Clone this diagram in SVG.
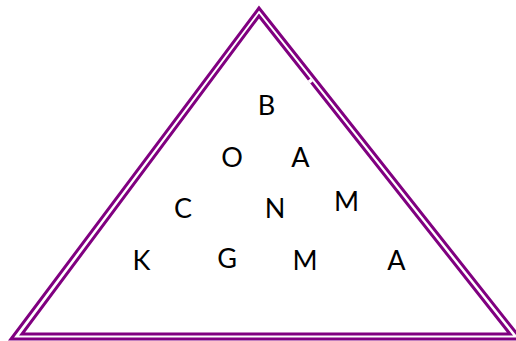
<svg xmlns="http://www.w3.org/2000/svg" width="516" height="341" viewBox="0 0 516 341">
<style>
.tri{fill:none;stroke:#800080;stroke-width:3}
.t{font-family:"Lato","Liberation Sans",sans-serif;font-size:27px;fill:#000;text-anchor:middle}
</style>
<rect width="516" height="341" fill="#fff"/>
<g id="triangle">
<polygon class="tri" points="259,8 11,339 521,339"/>
<polygon class="tri" points="259,16 22,334 510,334"/>
<line x1="309.2" y1="79.6" x2="311.4" y2="82.5" stroke="#fff" stroke-width="3.6"/>
</g>
<g id="letters">
<text class="t" x="266.5" y="115">B</text>
<text class="t" x="232" y="167">O</text>
<text class="t" x="300.5" y="167">A</text>
<text class="t" x="183" y="218">C</text>
<text class="t" x="275" y="218">N</text>
<text class="t" x="346.5" y="211">M</text>
<text class="t" x="141.5" y="270">K</text>
<text class="t" x="227" y="268">G</text>
<text class="t" x="305" y="270">M</text>
<text class="t" x="396.5" y="270">A</text>
</g>
</svg>
